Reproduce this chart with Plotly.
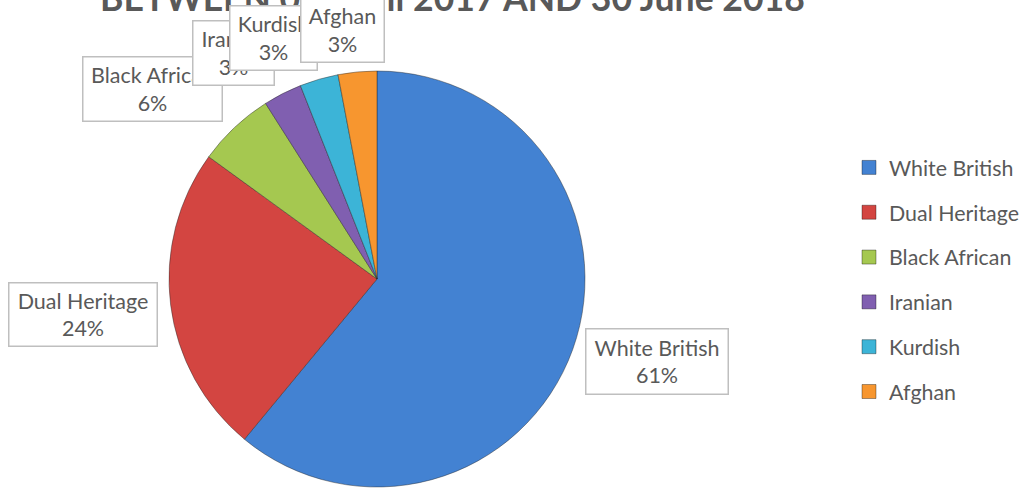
import plotly.graph_objects as go

# ---- data ----
labels = ["White British", "Dual Heritage", "Black African", "Iranian", "Kurdish", "Afghan"]
values = [61, 24, 6, 3, 3, 3]
title_text = "BETWEEN 01 April 2017 AND 30 June 2018"

# ---- styles ----
colors = ["#4382D2", "#D34541", "#A5C850", "#805FB0", "#3CB4D7", "#F7962F"]
W, H = 1027, 489
FONT = "Lato"
TXT = "#595959"

# label box geometry in page pixels (left, top, right, bottom)
boxes = [
    (585, 328, 729, 395),
    (8, 282, 158, 347),
    (82, 56, 223, 122),
    (192, 20, 275, 86),
    (229, 5, 318, 71),
    (300, -3, 385, 63),
]

# pie placement: center (px) and radius
cx, cy, r = 377, 279, 208

fig = go.Figure()
fig.add_trace(go.Pie(
    labels=labels, values=values, sort=False, direction="clockwise", rotation=0,
    marker=dict(colors=colors, line=dict(color="rgba(40,40,40,0.55)", width=0.8)),
    textinfo="none", showlegend=False, hoverinfo="label+percent",
    domain=dict(x=[(cx - r) / W, (cx + r) / W], y=[(H - cy - r) / H, (H - cy + r) / H]),
))

# legend entries (one group each so that the gap between entries can be set)
for lab, col in zip(labels, colors):
    fig.add_trace(go.Scatter(
        x=[None], y=[None], mode="markers", name=lab, legendgroup=lab,
        marker=dict(symbol="square", size=14, color=col,
                    line=dict(color="rgba(0,0,0,0.35)", width=1)),
        hoverinfo="skip", showlegend=True,
    ))

total = sum(values)
annotations = [dict(
    text=f"<b>{title_text}</b>", x=452 / W, y=1 - 21 / H, xref="paper", yref="paper",
    xanchor="center", yanchor="bottom", showarrow=False,
    font=dict(family=FONT, size=35.6, color=TXT),
)]
for lab, v, (l, t, rr, b) in zip(labels, values, boxes):
    annotations.append(dict(
        text=f"{lab}<br>{v / total * 100:.0f}%",
        x=(l + rr) / 2 / W, y=1 - (t + b) / 2 / H, xref="paper", yref="paper",
        xanchor="center", yanchor="middle", showarrow=False,
        width=rr - l - 3, height=b - t - 3, borderpad=0, borderwidth=1.5,
        bordercolor="#BFBFBF", bgcolor="white", align="center", valign="middle",
        font=dict(family=FONT, size=21.5, color=TXT),
    ))

fig.update_layout(
    width=W, height=H, autosize=False,
    margin=dict(l=0, r=0, t=0, b=0),
    paper_bgcolor="white", plot_bgcolor="white",
    xaxis=dict(visible=False), yaxis=dict(visible=False),
    showlegend=True,
    legend=dict(x=849 / W, xanchor="left", y=1 - 147 / H, yanchor="top",
                font=dict(family=FONT, size=21.4, color=TXT),
                tracegroupgap=14, itemwidth=30, bgcolor="rgba(0,0,0,0)"),
    annotations=annotations,
)

fig.write_html("out.html")
